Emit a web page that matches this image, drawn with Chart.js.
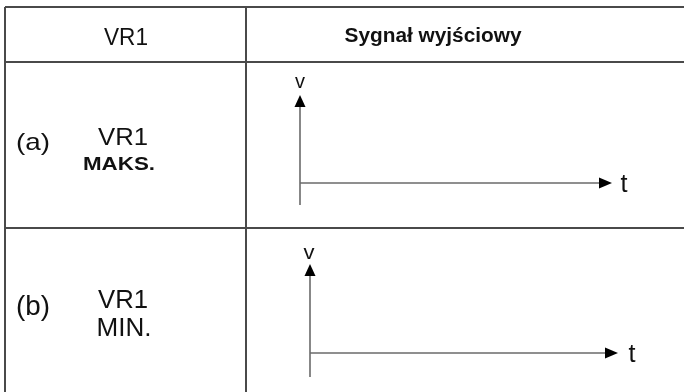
<!DOCTYPE html>
<html>
<head>
<meta charset="utf-8">
<script src="https://cdn.jsdelivr.net/npm/chart.js@4"></script>
<style>
    html, body { margin: 0; padding: 0; background: #fff; }
    canvas { display: block; }
</style>
</head>
<body>
<canvas id="myChart" width="684" height="392"></canvas>
<script>
// table texts
const headers = ["VR1", "Sygnał wyjściowy"];
const cases = ["(a)", "(b)"];
const settingNames = ["VR1", "VR1"];
const settingLevels = ["MAKS.", "MIN."];
const axisNames = ["v", "t"];

// table grid (same units as the hidden 684 x 392 scales)
const rowEdges = [7, 62, 228];
const colEdges = [5, 246];
const tableRight = 684;
const tableBottom = 392;

// the two empty v/t plots: origin, top of v axis, tip of t axis, foot of v axis
const originX = [300, 310];
const originY = [183, 353];
const vTop = [95, 264];
const tEnd = [612, 618];
const vFoot = [205, 377];

const gridColor = "#4a4a4a";
const axisColor = "#6a6a6a";

function segment(x1, y1, x2, y2, color, width) {
    return {
        data: [{ x: x1, y: y1 }, { x: x2, y: y2 }],
        showLine: true,
        borderColor: color,
        borderWidth: width,
        pointRadius: 0,
        fill: false,
        clip: false
    };
}

const datasets = [];
rowEdges.forEach(y => datasets.push(segment(colEdges[0], y, tableRight, y, gridColor, 2)));
colEdges.forEach(x => datasets.push(segment(x, rowEdges[0], x, tableBottom, gridColor, 2)));
originX.forEach((x, i) => {
    datasets.push(segment(x, vFoot[i], x, vTop[i] + 6, axisColor, 1.6));
    datasets.push(segment(x, originY[i], tEnd[i] - 6, originY[i], axisColor, 1.6));
});

/*
    text placement: centre x, baseline y, css font, width the text is fitted to
*/
const texts = [
    [headers[0], 126, 45, "23px 'Liberation Sans'", 44],
    [headers[1], 433, 42, "bold 20px 'Liberation Sans'", 177],
    [cases[0], 33, 150, "24px 'Liberation Sans'", 34],
    [settingNames[0], 123, 145, "24px 'Liberation Sans'", 50],
    [settingLevels[0], 119, 170, "bold 19px 'Liberation Sans'", 72],
    [cases[1], 33, 315, "28px 'Liberation Sans'", 34],
    [settingNames[1], 123, 308, "25px 'Liberation Sans'", 50],
    [settingLevels[1], 124, 336, "25px 'Liberation Sans'", 55],
    [axisNames[0], 300, 88, "20px 'Liberation Sans'", 10],
    [axisNames[1], 624, 192, "25px 'Liberation Sans'", 7],
    [axisNames[0], 309, 259, "20px 'Liberation Sans'", 11],
    [axisNames[1], 632, 362, "25px 'Liberation Sans'", 7]
];

const diagramPlugin = {
    id: "diagram",
    afterDraw(chart) {
        const ctx = chart.ctx;
        const sx = chart.scales.x;
        const sy = chart.scales.y;

        // arrow heads
        ctx.save();
        ctx.fillStyle = "#000";
        originX.forEach((x, i) => {
            const px = sx.getPixelForValue(x);
            const py = sy.getPixelForValue(vTop[i]);
            ctx.beginPath();
            ctx.moveTo(px, py);
            ctx.lineTo(px - 5.5, py + 12);
            ctx.lineTo(px + 5.5, py + 12);
            ctx.closePath();
            ctx.fill();

            const hx = sx.getPixelForValue(tEnd[i]);
            const hy = sy.getPixelForValue(originY[i]);
            ctx.beginPath();
            ctx.moveTo(hx, hy);
            ctx.lineTo(hx - 13, hy - 5.5);
            ctx.lineTo(hx - 13, hy + 5.5);
            ctx.closePath();
            ctx.fill();
        });
        ctx.restore();

        // texts
        texts.forEach(t => {
            const [label, x, y, font, width] = t;
            ctx.save();
            ctx.font = font;
            ctx.fillStyle = "#111";
            ctx.textAlign = "center";
            ctx.textBaseline = "alphabetic";
            const w = ctx.measureText(label).width;
            ctx.translate(sx.getPixelForValue(x), sy.getPixelForValue(y));
            ctx.scale(width / w, 1);
            ctx.fillText(label, 0, 0);
            ctx.restore();
        });
    }
};

new Chart(document.getElementById("myChart"), {
    type: "scatter",
    data: { datasets: datasets },
    options: {
        responsive: false,
        animation: false,
        devicePixelRatio: 1,
        events: [],
        layout: { padding: 0 },
        plugins: {
            legend: { display: false },
            tooltip: { enabled: false }
        },
        scales: {
            x: { type: "linear", min: 0, max: 684, display: false },
            y: { type: "linear", min: 0, max: 392, reverse: true, display: false }
        }
    },
    plugins: [diagramPlugin]
});
</script>
</body>
</html>
